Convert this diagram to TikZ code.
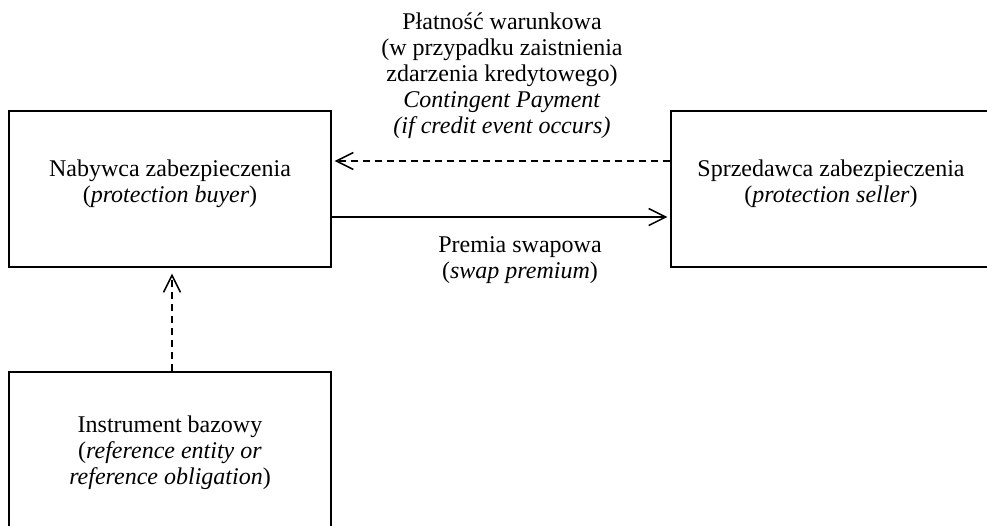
\documentclass[tikz,border=0pt]{standalone}
\usepackage{fontspec}
\setmainfont{Liberation Serif}
\usetikzlibrary{arrows.meta,calc}
\begin{document}
\begin{tikzpicture}[x=1pt,y=-1pt,
  box/.style={draw,line width=1.3pt,inner sep=0pt},
  txt/.style={font=\fontsize{24}{26}\selectfont,align=center,inner sep=0pt},
  conn/.style={line width=1.5pt,-{Straight Barb[length=17pt,width=17pt]}},
  dsh/.style={dash pattern=on 7pt off 5pt}]
\path[use as bounding box] (0,0) rectangle (987,525);
\clip (0,0) rectangle (987,525);
\node[box, minimum width=322pt, minimum height=156pt] (buyer) at (170,189) {};
\node[box, minimum width=340pt, minimum height=156pt] (seller) at (841,189) {};
\node[box, minimum width=322pt, minimum height=170pt] (ref) at (170,457) {};
\node[txt] (buyertxt) at (170,184) {Nabywca zabezpieczenia\\(\textit{protection buyer})};
\node[txt] (sellertxt) at (831,184) {Sprzedawca zabezpieczenia\\(\textit{protection seller})};
\node[txt] (reftxt) at (170,453) {Instrument bazowy\\(\textit{reference entity or}\\\textit{reference obligation})};
\node[txt] (paytxt) at (502,76) {Płatność warunkowa\\(w przypadku zaistnienia\\zdarzenia kredytowego)\\\textit{Contingent Payment}\\\textit{(if credit event occurs)}};
\node[txt] (premtxt) at (520,260) {Premia swapowa\\(\textit{swap premium})};
\coordinate (dy) at (0,161);
\coordinate (sy) at (0,217);
\coordinate (vx) at (172,0);
\draw[conn,dsh,shorten >=3pt] (seller.west |- dy) -- (buyer.east |- dy);
\draw[conn,shorten >=3pt] (buyer.east |- sy) -- (seller.west |- sy);
\draw[conn,dsh,shorten >=6pt] (ref.north -| vx) -- (buyer.south -| vx);
\end{tikzpicture}
\end{document}
